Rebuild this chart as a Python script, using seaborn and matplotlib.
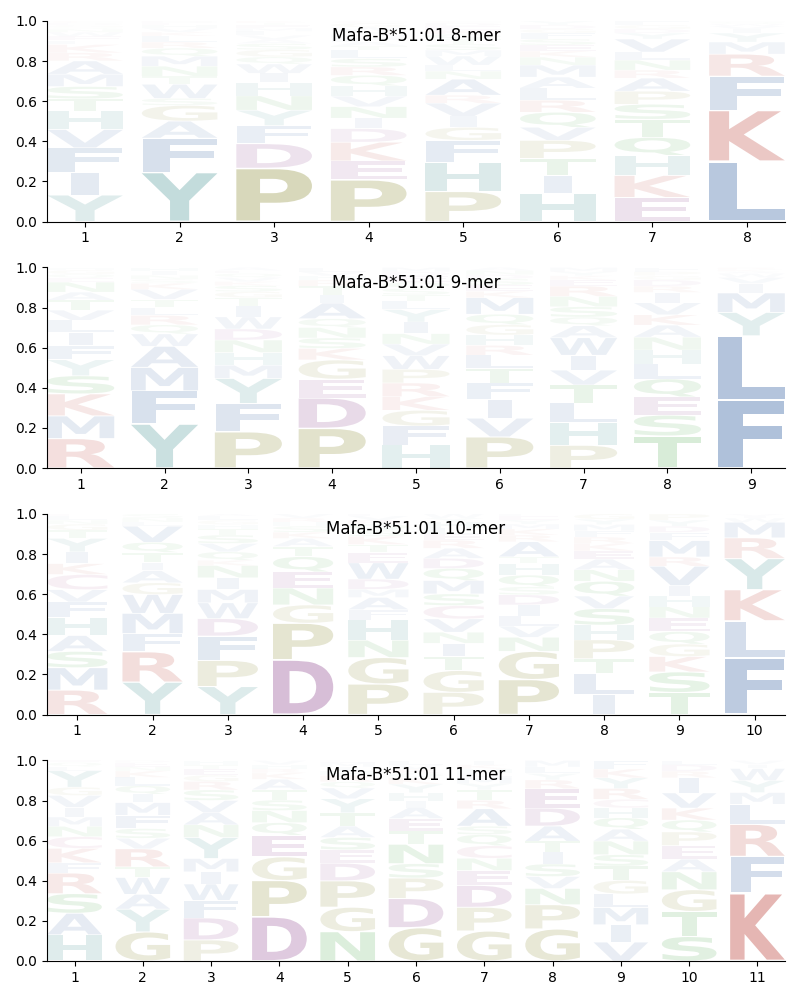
import numpy as np
import matplotlib
matplotlib.use("Agg")
import matplotlib.pyplot as plt
import seaborn as sns
from matplotlib.textpath import TextPath
from matplotlib.patches import PathPatch
from matplotlib.font_manager import FontProperties
from matplotlib.transforms import Affine2D

# letters per position, listed bottom-up, with their heights (frequencies)
letters_8 = ["YIFVHTSMARKLEWNQGDC", "YFAGSWTNMQRLKVHED", "PDFYNHIWQGSAVLMETK",
             "PEKDINVHQRSLTAFMYWGC", "PHFGIVRANLWMSTQKEDC", "HITPVQRLAMNKESFGDY",
             "EKHQTSPARNLVYDGF", "LKFRMYIVWQH"]
heights_8 = [
    [.13, .11, .12, .09, .09, .06, .06, .06, .065, .04, .04, .02, .02, .02, .015, .01, .01, .01, .01],
    [.245, .17, .085, .078, .035, .07, .04, .05, .05, .04, .03, .03, .02, .02, .015, .01, .01],
    [.26, .12, .088, .075, .07, .065, .045, .045, .035, .035, .03, .02, .02, .02, .015, .015, .01, .01],
    [.2, .09, .09, .065, .05, .055, .05, .05, .05, .04, .04, .04, .02, .02, .02, .015, .015, .02, .02, .01],
    [.15, .145, .11, .065, .055, .065, .04, .08, .04, .03, .045, .03, .03, .025, .025, .02, .02, .015, .01],
    [.14, .09, .085, .09, .065, .075, .06, .06, .055, .06, .04, .03, .03, .03, .03, .02, .02, .02],
    [.12, .11, .1, .09, .09, .075, .065, .065, .04, .05, .04, .065, .03, .02, .02, .02],
    [.3, .255, .17, .11, .06, .045, .02, .015, .01, .01, .005],
]

letters_9 = ["RMKSYFILVTANEQGH", "YFMAWQRLTVKSNIH", "PFYMHNDWITGSKVQEA",
             "PDEGKSNQAITRHVL", "HFGKRPWVNIYLTSQEDM", "PVIFTLRHGQMKESDNA",
             "PHLTVIWAQSNREKYM", "TSEQLHNAKVIRDGPF", "FLYMIVWAKR"]
heights_9 = [
    [.147, .113, .11, .09, .08, .07, .067, .06, .05, .05, .04, .05, .02, .02, .02, .013],
    [.22, .165, .117, .105, .062, .045, .047, .04, .04, .05, .03, .02, .02, .02, .019],
    [.18, .14, .125, .065, .063, .062, .055, .06, .055, .04, .03, .03, .02, .02, .02, .015, .015],
    [.19, .145, .09, .092, .055, .05, .05, .042, .075, .04, .04, .03, .02, .02, .02],
    [.11, .09, .075, .065, .065, .065, .065, .055, .05, .055, .06, .04, .03, .03, .03, .03, .02, .02],
    [.15, .09, .09, .08, .07, .063, .047, .05, .05, .05, .08, .03, .03, .03, .02, .02, .015],
    [.11, .11, .095, .087, .072, .072, .085, .058, .042, .05, .05, .05, .03, .02, .02, .02],
    [.155, .1, .088, .087, .072, .067, .062, .058, .05, .058, .05, .03, .03, .02, .02, .02],
    [.34, .32, .117, .097, .047, .03, .02, .01, .01, .01],
]

letters_10 = ["RMSAHFVCKIYTGNLE", "YRFMWGAITQVLNS", "YPFDWMINKQVSTHGLA",
              "DPGNEQTAKSHRV", "PGNHFAMDWETKSQRVL", "PGTINVCSMQDARELHYW",
              "PGNVLIDSQHTARKMYEF", "ILTPHSVQNAEKRFMYG", "TSKGQENHIVRMFDYP",
              "FLKYRMWIV"]
heights_10 = [
    [.12, .11, .08, .078, .09, .075, .06, .075, .053, .058, .066, .04, .03, .02, .02, .01],
    [.16, .15, .09, .1, .093, .058, .06, .04, .05, .05, .08, .02, .02, .02],
    [.133, .124, .116, .083, .075, .063, .056, .058, .025, .04, .04, .04, .03, .02, .02, .02, .01],
    [.27, .18, .09, .083, .08, .075, .05, .04, .03, .03, .02, .02, .02],
    [.15, .13, .085, .1, .05, .06, .04, .05, .08, .05, .04, .04, .03, .03, .02, .02, .01],
    [.11, .108, .07, .065, .055, .066, .066, .058, .066, .06, .05, .05, .04, .03, .03, .03, .02, .02],
    [.174, .14, .07, .055, .05, .056, .05, .04, .058, .058, .033, .075, .033, .03, .025, .02, .02, .01],
    [.095, .1, .07, .09, .07, .078, .06, .07, .055, .05, .04, .035, .03, .03, .03, .025, .025],
    [.108, .1, .075, .061, .061, .066, .055, .053, .05, .095, .045, .08, .04, .03, .03, .03],
    [.272, .18, .15, .15, .1, .075, .02, .01, .01],
]

letters_11 = ["HASRFKCNMIVGYLQE", "GYAWTRVSFMIQLKNED", "PDFWIMYNAVSRGETH",
              "DPGEQNSTAKRHV", "NGPDESATYVQRHIML", "GDPSNTEAIHYKQRVL",
              "GPDENCQSARTYMLHKI", "GPNVSITADERYLM", "VIMLGTSNAQHCRYKF",
              "STGNAEPQKVIRDL", "KFRLMYWIV"]
heights_11 = [
    [.127, .105, .095, .1, .05, .07, .057, .05, .045, .047, .058, .04, .08, .02, .02, .01],
    [.138, .108, .07, .08, .05, .086, .05, .046, .063, .06, .04, .04, .04, .03, .02, .02, .01],
    [.1, .105, .083, .078, .058, .063, .1, .06, .058, .058, .05, .04, .03, .03, .02, .02],
    [.212, .174, .113, .104, .06, .058, .05, .05, .05, .03, .02, .02, .02],
    [.138, .115, .124, .083, .063, .058, .053, .063, .066, .05, .03, .03, .02, .02, .02, .01],
    [.155, .136, .095, .067, .09, .062, .058, .05, .03, .04, .04, .03, .02, .02, .02, .02],
    [.143, .113, .104, .071, .058, .06, .053, .04, .083, .04, .05, .03, .03, .02, .02, .02, .02],
    [.148, .112, .075, .055, .058, .055, .05, .07, .083, .09, .04, .03, .03, .03],
    [.088, .08, .08, .063, .063, .066, .053, .063, .055, .053, .046, .04, .05, .05, .04, .04],
    [.113, .116, .1, .083, .058, .063, .063, .055, .055, .07, .07, .03, .03, .02],
    [.338, .183, .16, .1, .058, .06, .06, .02, .02],
]

titles = ["Mafa-B*51:01 8-mer", "Mafa-B*51:01 9-mer",
          "Mafa-B*51:01 10-mer", "Mafa-B*51:01 11-mer"]

# residue colour groups
aa_colors = {}
for aa in "AVLIMFW":
    aa_colors[aa] = "#164a94"
for aa in "KR":
    aa_colors[aa] = "#b4281e"
for aa in "DE":
    aa_colors[aa] = "#6e126e"
for aa in "HY":
    aa_colors[aa] = "#0f7373"
for aa in "PG":
    aa_colors[aa] = "#707000"
for aa in "NQST":
    aa_colors[aa] = "#108a10"
aa_colors["C"] = "#a0306e"

sns.set_style("ticks", {"axes.edgecolor": "black", "xtick.color": "black",
                        "ytick.color": "black", "text.color": "black"})
plt.rcParams["font.family"] = ["DejaVu Sans"]

glyph_font = FontProperties(family="DejaVu Sans", weight="bold")
E_WIDTH = TextPath((0, 0), "E", size=1, prop=glyph_font).get_extents().width


def draw_letter(ax, char, x, y0, h, width=0.8, vpad=0.04):
    path = TextPath((0, 0), char, size=1, prop=glyph_font)
    ext = path.get_extents()
    # narrow glyphs (like I) are not stretched wider than an E would be
    hs = min(width / ext.width, width / E_WIDTH)
    gh = h * (1 - vpad)
    vs = gh / ext.height
    tr = (Affine2D().translate(-ext.xmin, -ext.ymin).scale(hs, vs)
          .translate(x - ext.width * hs / 2, y0 + h * vpad / 2))
    ax.add_patch(PathPatch(tr.transform_path(path), facecolor=aa_colors[char],
                           edgecolor="none", alpha=min(1.0, h), lw=0))


def draw_logo(ax, letters, heights, title):
    for i, (chars, hs) in enumerate(zip(letters, heights)):
        hs = np.array(hs) / np.sum(hs)
        bottoms = np.concatenate([[0], np.cumsum(hs)[:-1]])
        for c, h, b in zip(chars, hs, bottoms):
            draw_letter(ax, c, i + 1, b, h)
    n = len(letters)
    ax.set_xlim(0.6, n + 0.4)
    ax.set_ylim(0, 1)
    ax.set_xticks(range(1, n + 1))
    ax.set_yticks(np.arange(0, 1.01, 0.2))
    ax.text(0.5, 0.925, title, ha="center", va="center",
            transform=ax.transAxes, fontsize=12, zorder=5)
    sns.despine(ax=ax)


fig, axes = plt.subplots(4, 1, figsize=(8, 10), dpi=100)
fig.subplots_adjust(left=0.059, right=0.981, top=0.979, bottom=0.039, hspace=0.229)

draw_logo(axes[0], letters_8, heights_8, titles[0])
draw_logo(axes[1], letters_9, heights_9, titles[1])
draw_logo(axes[2], letters_10, heights_10, titles[2])
draw_logo(axes[3], letters_11, heights_11, titles[3])

fig.savefig("out.png", dpi=100)
